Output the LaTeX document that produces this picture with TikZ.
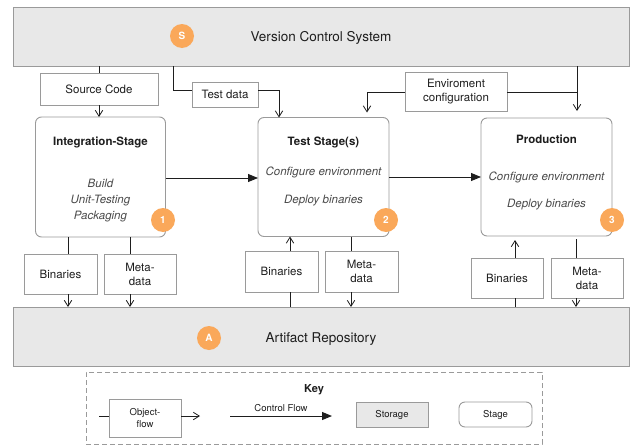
\documentclass[tikz,border=0pt]{standalone}
\usepackage{fontspec}
\setmainfont{TeX Gyre Heros}
\usetikzlibrary{arrows.meta}
\definecolor{boxgray}{HTML}{E8E8E8}
\definecolor{edge}{HTML}{9A9A9A}
\definecolor{badge}{HTML}{FAA85A}
\definecolor{ink}{HTML}{1E1E1E}
\definecolor{soft}{HTML}{4A4A4A}

\begin{document}
\begin{tikzpicture}[x=1pt,y=-1pt,
  every node/.style={inner sep=0pt, outer sep=0pt, text=ink,
    font=\fontsize{11.5}{14}\selectfont},
  storage/.style={draw=edge, fill=boxgray, line width=0.9pt},
  stagebox/.style={draw=edge, fill=white, rounded corners=6pt, line width=0.9pt},
  objbox/.style={draw=edge, fill=white, line width=0.9pt, align=center},
  title/.style={anchor=base, font=\fontsize{11.5}{14}\selectfont\bfseries},
  task/.style={anchor=base, text=soft, font=\fontsize{11.5}{14}\selectfont\itshape},
  badgenode/.style={circle, fill=badge, minimum size=24pt, text=white,
    font=\fontsize{10}{12}\selectfont\bfseries},
  keytext/.style={font=\fontsize{9.5}{12}\selectfont},
  plain/.style={draw=ink, line width=0.8pt},
  objflow/.style={draw=ink, line width=0.8pt, -{Straight Barb[length=6pt,width=7.5pt]}},
  ctrl/.style={draw=ink, line width=1pt, -{Triangle[length=10pt,width=8pt]}},
]
\useasboundingbox (0,0) rectangle (632,447);

% storages
\node[storage, minimum width=616pt, minimum height=59pt] (vcs) at (321,36.5) {};
\node[anchor=base, font=\fontsize{13.5}{16}\selectfont] (vcslbl) at (321,41) {Version Control System};
\node[badgenode] (bs) at (182,36) {S};

\node[storage, minimum width=616pt, minimum height=59pt] (repo) at (321,336.5) {};
\node[anchor=base, font=\fontsize{13.5}{16}\selectfont] (repolbl) at (321,342) {Artifact Repository};
\node[badgenode] (ba) at (209,338) {A};

% stages
\node[stagebox, minimum width=130pt, minimum height=120pt] (int) at (100.5,177) {};
\node[title] (intt) at (100.5,145) {Integration-Stage};
\node[task] (int1) at (100.5,187) {Build};
\node[task] (int2) at (100.5,203) {Unit-Testing};
\node[task] (int3) at (100.5,219) {Packaging};
\node[badgenode] (b1) at (163,220) {1};

\node[stagebox, minimum width=131pt, minimum height=119pt] (test) at (323.5,177) {};
\node[title] (testt) at (323.5,145) {Test Stage(s)};
\node[task] (test1) at (323.5,175) {Configure environment};
\node[task] (test2) at (323.5,203) {Deploy binaries};
\node[badgenode] (b2) at (386,220) {2};

\node[stagebox, minimum width=131pt, minimum height=118pt] (prod) at (546.5,177) {};
\node[title] (prodt) at (546.5,143) {Production};
\node[task] (prod1) at (546.5,180) {Configure environment};
\node[task] (prod2) at (546.5,207) {Deploy binaries};
\node[badgenode] (b3) at (612,220) {3};

% objects between VCS and stages
\node[objbox, minimum width=118pt, minimum height=32pt] (src) at (99,89) {Source Code};
\node[objbox, minimum width=66pt, minimum height=25pt] (tdata) at (225,94.5) {Test data};
\node[objbox, minimum width=102pt, minimum height=39pt, font=\fontsize{11.5}{14}\selectfont] (envc) at (456,91.5) {Enviroment\\configuration};

% objects between stages and repository
\node[objbox, minimum width=73pt, minimum height=40pt] (ib) at (60.5,274) {Binaries};
\node[objbox, minimum width=72pt, minimum height=40pt] (im) at (140,274) {Meta-\\data};
\node[objbox, minimum width=73pt, minimum height=41pt] (tb) at (281.5,271.5) {Binaries};
\node[objbox, minimum width=73pt, minimum height=41pt] (tm) at (361.5,271.5) {Meta-\\data};
\node[objbox, minimum width=72pt, minimum height=40pt] (pb) at (507,278) {Binaries};
\node[objbox, minimum width=72pt, minimum height=40pt] (pm) at (587,278) {Meta-\\data};

% routing coordinates
\coordinate (tdx) at (173,90);
\coordinate (tdin) at (279,0);
\coordinate (ecy) at (0,92);
\coordinate (ecl) at (367,0);
\coordinate (ecr) at (577,0);
\coordinate (c1) at (0,178);
\coordinate (c2) at (0,177);
\coordinate (ibx) at (68,0);
\coordinate (imx) at (130,0);
\coordinate (tbx) at (290,0);
\coordinate (tmx) at (351,0);
\coordinate (pbx) at (515,0);
\coordinate (pmx) at (576,0);

% object flows from the VCS
\draw[plain] (vcs.south -| src) -- (src.north);
\draw[objflow] (src.south) -- (int.north -| src);
\draw[plain] (vcs.south -| tdx) |- (tdata.west |- tdx);
\draw[objflow] (tdata.east |- tdx) -| (test.north -| tdin);
\draw[objflow, shorten >=5pt] (envc.west |- ecy) -| (test.north -| ecl);
\draw[plain] (envc.east |- ecy) -- (ecr |- ecy);
\draw[objflow, shorten >=7pt] (vcs.south -| ecr) -- (prod.north -| ecr);

% control flow between stages
\draw[ctrl] (int.east |- c1) -- (test.west |- c1);
\draw[ctrl] (test.east |- c2) -- (prod.west |- c2);

% object flows to and from the repository
\draw[plain] (int.south -| ibx) -- (ib.north -| ibx);
\draw[objflow] (ib.south -| ibx) -- (repo.north -| ibx);
\draw[plain] (int.south -| imx) -- (im.north -| imx);
\draw[objflow] (im.south -| imx) -- (repo.north -| imx);

\draw[plain] (repo.north -| tbx) -- (tb.south -| tbx);
\draw[objflow] (tb.north -| tbx) -- (test.south -| tbx);
\draw[plain] (test.south -| tmx) -- (tm.north -| tmx);
\draw[objflow] (tm.south -| tmx) -- (repo.north -| tmx);

\draw[plain] (repo.north -| pbx) -- (pb.south -| pbx);
\draw[objflow, shorten >=4pt] (pb.north -| pbx) -- (prod.south -| pbx);
\draw[plain, shorten <=3pt] (prod.south -| pmx) -- (pm.north -| pmx);
\draw[objflow] (pm.south -| pmx) -- (repo.north -| pmx);

% key
\node[draw=edge, line width=0.8pt, dash pattern=on 5pt off 3pt,
      minimum width=456pt, minimum height=72pt] (key) at (314,408) {};
\node[anchor=base, font=\fontsize{11}{13}\selectfont\bfseries] (keyt) at (314,392) {Key};
\node[objbox, keytext, minimum width=72pt, minimum height=38pt] (kobj) at (145,418) {Object-\\flow};
\coordinate (ky) at (0,416);
\coordinate (kin) at (99,416);
\coordinate (kout) at (200,416);
\draw[plain] (kin) -- (kobj.west |- ky);
\draw[objflow] (kobj.east |- ky) -- (kout);
\coordinate (cfa) at (230,416);
\coordinate (cfb) at (332,416);
\draw[ctrl] (cfa) -- (cfb);
\node[keytext, anchor=base] (cflbl) at (281,411) {Control Flow};
\node[storage, keytext, minimum width=72pt, minimum height=25pt] (kstore) at (392,414.5) {Storage};
\node[stagebox, keytext, minimum width=73pt, minimum height=25pt] (kstage) at (495.5,414.5) {Stage};
\end{tikzpicture}
\end{document}
